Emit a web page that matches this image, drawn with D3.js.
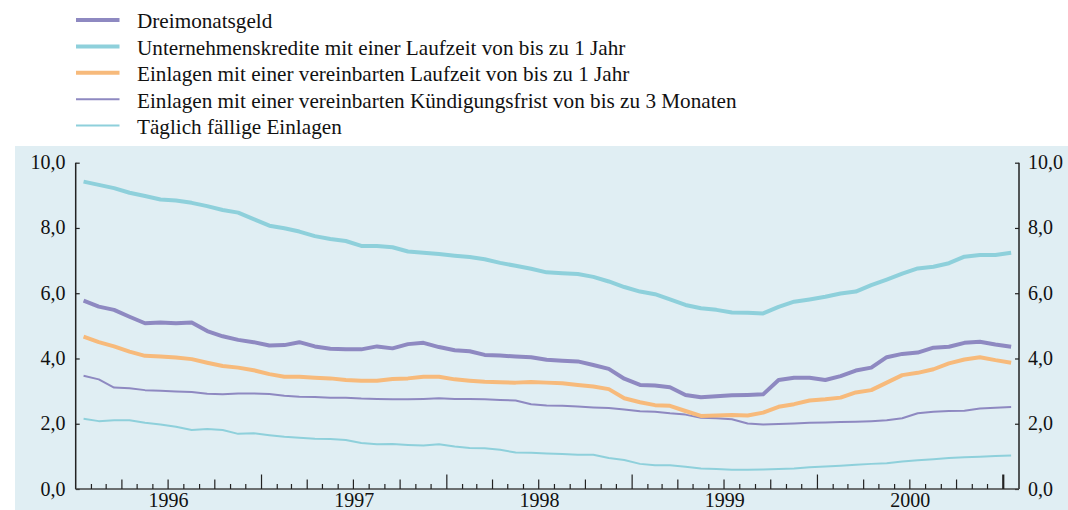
<!DOCTYPE html>
<html>
<head>
<meta charset="utf-8">
<script src="https://cdn.jsdelivr.net/npm/d3@7"></script>
<style>
body { margin: 0; background: #fff; }
text { font-family: "Liberation Serif", "Times New Roman", serif; fill: #111; }
</style>
</head>
<body>
<script>
var width = 1068,
    height = 510;

// months Jan 1996 .. Jan 2001 (one point per month, mid-month)
var startMonth = new Date(1996, 0, 1),
    endMonth = new Date(2001, 1, 1);
var months = d3.timeMonth.range(startMonth, new Date(2001, 0, 2));

var dreimonatsgeld = [5.77,5.59,5.49,5.28,5.08,5.10,5.08,5.10,4.84,4.68,4.57,4.50,
  4.40,4.41,4.50,4.37,4.30,4.28,4.28,4.37,4.31,4.44,4.48,4.35,
  4.25,4.22,4.11,4.09,4.06,4.04,3.96,3.93,3.91,3.80,3.68,3.38,
  3.19,3.17,3.12,2.88,2.81,2.84,2.87,2.88,2.90,3.34,3.41,3.41,
  3.34,3.46,3.63,3.72,4.04,4.14,4.18,4.33,4.36,4.48,4.51,4.43,4.36];
var unternehmenskredite = [9.42,9.32,9.22,9.08,8.98,8.87,8.84,8.77,8.67,8.55,8.47,8.27,
  8.07,7.99,7.89,7.75,7.66,7.60,7.45,7.45,7.41,7.28,7.24,7.20,
  7.15,7.11,7.04,6.93,6.84,6.75,6.64,6.61,6.59,6.50,6.36,6.19,
  6.05,5.97,5.81,5.64,5.54,5.49,5.41,5.40,5.38,5.58,5.74,5.81,
  5.89,5.99,6.05,6.25,6.42,6.60,6.76,6.81,6.92,7.12,7.17,7.17,7.24];
var einlagenLaufzeit = [4.67,4.50,4.37,4.21,4.08,4.06,4.03,3.98,3.87,3.77,3.72,3.64,
  3.52,3.44,3.44,3.41,3.39,3.34,3.32,3.32,3.37,3.39,3.44,3.44,
  3.36,3.32,3.29,3.27,3.26,3.28,3.26,3.24,3.19,3.14,3.06,2.78,
  2.66,2.57,2.55,2.39,2.24,2.25,2.27,2.25,2.34,2.52,2.60,2.71,
  2.75,2.80,2.96,3.03,3.26,3.49,3.56,3.67,3.85,3.97,4.04,3.95,3.87];
var einlagenKuendigung = [3.47,3.36,3.11,3.09,3.03,3.01,2.99,2.97,2.92,2.90,2.93,2.93,
  2.91,2.86,2.83,2.82,2.80,2.80,2.77,2.76,2.75,2.75,2.76,2.78,
  2.76,2.76,2.75,2.73,2.71,2.60,2.56,2.55,2.53,2.50,2.48,2.44,
  2.38,2.37,2.32,2.28,2.18,2.17,2.14,2.01,1.98,1.99,2.01,2.03,
  2.04,2.05,2.06,2.08,2.11,2.17,2.32,2.37,2.39,2.40,2.47,2.49,2.51];
var taeglichFaellig = [2.15,2.08,2.11,2.11,2.03,1.98,1.91,1.81,1.84,1.81,1.69,1.71,
  1.65,1.60,1.57,1.54,1.53,1.50,1.41,1.37,1.38,1.35,1.33,1.37,
  1.30,1.26,1.25,1.20,1.12,1.11,1.09,1.07,1.05,1.05,0.95,0.89,
  0.77,0.73,0.73,0.68,0.63,0.61,0.59,0.59,0.60,0.61,0.63,0.67,
  0.69,0.71,0.74,0.77,0.79,0.84,0.88,0.91,0.95,0.97,0.99,1.01,1.03];

var seriesNames = ["Dreimonatsgeld",
  "Unternehmenskredite mit einer Laufzeit von bis zu 1 Jahr",
  "Einlagen mit einer vereinbarten Laufzeit von bis zu 1 Jahr",
  "Einlagen mit einer vereinbarten Kündigungsfrist von bis zu 3 Monaten",
  "Täglich fällige Einlagen"];
var seriesColors = ["#8e89c1", "#8ed0db", "#f7ba7b", "#8e89c1", "#8ed0db"];
var seriesWidths = [4, 4, 4, 2, 2];
var seriesValues = [dreimonatsgeld, unternehmenskredite, einlagenLaufzeit, einlagenKuendigung, taeglichFaellig];
var yTicks = [0, 2, 4, 6, 8, 10];
var yearLabels = ["1996", "1997", "1998", "1999", "2000"];

var margin = {left: 75.7, right: 1019, top: 162.7, bottom: 489};

var svg = d3.select("body").append("svg")
    .attr("width", width)
    .attr("height", height);

// background panel
svg.append("rect")
    .attr("x", 15).attr("y", 146)
    .attr("width", width - 15).attr("height", height - 146)
    .attr("fill", "#e0eef3");

var x = d3.scaleTime().domain([startMonth, endMonth]).range([margin.left, margin.right]);
var y = d3.scaleLinear().domain([0, 10]).range([margin.bottom, margin.top]);

function mid(d) { return new Date(d.getTime() + (d3.timeMonth.offset(d, 1) - d) / 2); }

var line = d3.line()
    .x(function(d, i) { return x(mid(months[i])); })
    .y(function(d) { return y(d); });

// draw lines, thin ones first
var order = [4, 3, 2, 1, 0];
svg.append("g").selectAll("path")
    .data(order)
    .enter().append("path")
    .attr("d", function(k) { return line(seriesValues[k]); })
    .attr("fill", "none")
    .attr("stroke", function(k) { return seriesColors[k]; })
    .attr("stroke-width", function(k) { return seriesWidths[k]; })
    .attr("stroke-linejoin", "round");

// y axes (ticks pointing inward)
var axisColor = "#222";
var yl = svg.append("g").attr("transform", "translate(" + margin.left + ",0)")
    .call(d3.axisRight(y).tickValues(yTicks).tickSize(4).tickFormat(""));
var yr = svg.append("g").attr("transform", "translate(" + margin.right + ",0)")
    .call(d3.axisLeft(y).tickValues(yTicks).tickSize(4).tickFormat(""));
[yl, yr].forEach(function(g) {
    g.select(".domain").attr("stroke", axisColor).attr("stroke-width", 1.5).attr("d", "M0," + margin.top + "V" + margin.bottom);
    g.selectAll(".tick line").attr("stroke", axisColor).attr("stroke-width", 1.2);
});

var fmt = function(d) { return d3.format(".1f")(d).replace(".", ","); };
svg.append("g").selectAll("text").data(yTicks).enter().append("text")
    .attr("x", 65.5).attr("y", function(d) { return y(d) + 6.5; })
    .attr("text-anchor", "end").style("font-size", "20px").text(fmt);
svg.append("g").selectAll("text").data(yTicks).enter().append("text")
    .attr("x", 1028).attr("y", function(d) { return y(d) + 6.5; })
    .style("font-size", "20px").text(fmt);

// x axis: monthly ticks, longer on quarters, longest on years
var tickMonths = d3.timeMonth.range(d3.timeMonth.offset(startMonth, 1), endMonth);
var xg = svg.append("g");
xg.append("line")
    .attr("x1", margin.left).attr("x2", margin.right)
    .attr("y1", margin.bottom).attr("y2", margin.bottom)
    .attr("stroke", "#444").attr("stroke-width", 1.5);
xg.selectAll("line.tick").data(tickMonths).enter().append("line")
    .attr("class", "tick")
    .attr("x1", function(d) { return x(d); }).attr("x2", function(d) { return x(d); })
    .attr("y1", margin.bottom)
    .attr("y2", function(d) {
        if (d.getMonth() == 0) return margin.bottom - 14.5;
        if (d.getMonth() % 3 == 0) return margin.bottom - 9.5;
        return margin.bottom - 5;
    })
    .attr("stroke", axisColor)
    .attr("stroke-width", function(d) { return d.getFullYear() == 2001 ? 2.2 : 1.2; });

// year labels sit right at the bottom edge, as in the original
xg.selectAll("text").data(yearLabels).enter().append("text")
    .attr("x", function(d) { return (x(new Date(+d, 0, 1)) + x(new Date(+d + 1, 0, 1))) / 2; })
    .attr("y", 507)
    .attr("text-anchor", "middle")
    .style("font-size", "20px")
    .text(function(d) { return d; });

// legend
var legend = svg.append("g").selectAll("g").data(seriesNames).enter().append("g")
    .attr("transform", function(d, i) { return "translate(0," + (20 + i * 26.4) + ")"; });
legend.append("line")
    .attr("x1", 76).attr("x2", 119.5)
    .attr("stroke", function(d, i) { return seriesColors[i]; })
    .attr("stroke-width", function(d, i) { return seriesWidths[i]; });
legend.append("text")
    .attr("x", 137).attr("y", 8.3)
    .style("font-size", "21.2px")
    .text(function(d) { return d; });
</script>
</body>
</html>
